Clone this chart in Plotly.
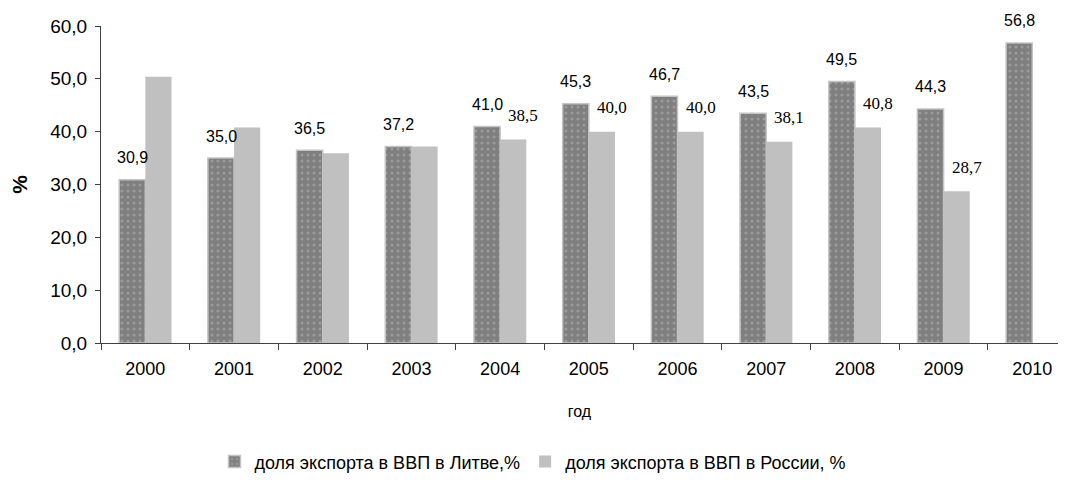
import plotly.graph_objects as go

years = ["2000", "2001", "2002", "2003", "2004", "2005", "2006", "2007", "2008", "2009", "2010"]
lithuania = [30.9, 35.0, 36.5, 37.2, 41.0, 45.3, 46.7, 43.5, 49.5, 44.3, 56.8]
russia = [50.4, 40.8, 35.9, 37.2, 38.5, 40.0, 40.0, 38.1, 40.8, 28.7, None]
# the source only labels the Russia bars for 2004-2009
russia_labeled = [False, False, False, False, True, True, True, True, True, True, False]


def fmt(v):
    return f"{v:.1f}".replace(".", ",")


fig = go.Figure()

fig.add_trace(go.Bar(
    x=years, y=lithuania,
    name="доля экспорта в ВВП в Литве,%",
    marker=dict(
        color="#7f7f7f",
        line=dict(color="#c4c4c4", width=1.5),
        pattern=dict(shape=".", fgcolor="#b8b8b8", bgcolor="#7f7f7f", size=6, solidity=0.2),
    ),
))
fig.add_trace(go.Bar(
    x=years, y=russia,
    name="доля экспорта в ВВП в России, %",
    marker=dict(color="#c0c0c0", line=dict(width=0)),
))

# data labels, lifted well above the bar tops like in the source
# (category axis: annotations are placed by category index)
for i, v in enumerate(lithuania):
    fig.add_annotation(
        x=i, y=v, xref="x", yref="y", text=fmt(v), showarrow=False,
        xshift=-13, yshift=22, yanchor="middle",
        font=dict(family="Liberation Sans, Arial", size=16, color="black"),
    )
for i, (v, show) in enumerate(zip(russia, russia_labeled)):
    if not show or v is None:
        continue
    fig.add_annotation(
        x=i, y=v, xref="x", yref="y", text=fmt(v), showarrow=False,
        xshift=23, yshift=24, yanchor="middle",
        font=dict(family="Liberation Serif, Times New Roman", size=17, color="black"),
    )

# the page body adds an 8px margin, so the figure is sized a bit smaller
fig.update_layout(
    width=1050, height=465,
    barmode="group", bargap=0.41, bargroupgap=0,
    plot_bgcolor="white", paper_bgcolor="white",
    separators=", ",
    font=dict(family="Liberation Sans, Arial", size=19, color="black"),
    margin=dict(l=93, r=0, t=18, b=130, autoexpand=False),
    showlegend=True,
    legend=dict(
        orientation="h", xref="container", yref="container",
        x=0.5, xanchor="center", y=0.024, yanchor="middle",
        font=dict(size=18), itemwidth=30, traceorder="normal",
    ),
)

fig.update_xaxes(
    range=[-0.5, 10.29], automargin=False,
    showline=True, linecolor="#404040", linewidth=1,
    ticks="outside", tickson="boundaries", ticklen=6, tickcolor="#404040",
    ticklabelstandoff=9, tickfont=dict(size=18),
    showgrid=False,
    title=dict(text="год", standoff=28, font=dict(size=16)),
)
fig.update_yaxes(
    range=[0, 60], dtick=10, tickformat=".1f", automargin=False,
    showline=True, linecolor="#404040", linewidth=1,
    ticks="outside", ticklen=5, tickcolor="#404040",
    ticklabelstandoff=4,
    showgrid=False, zeroline=False,
    title=dict(text="<b>%</b>", standoff=20, font=dict(size=21)),
)

fig.write_html("out.html")
